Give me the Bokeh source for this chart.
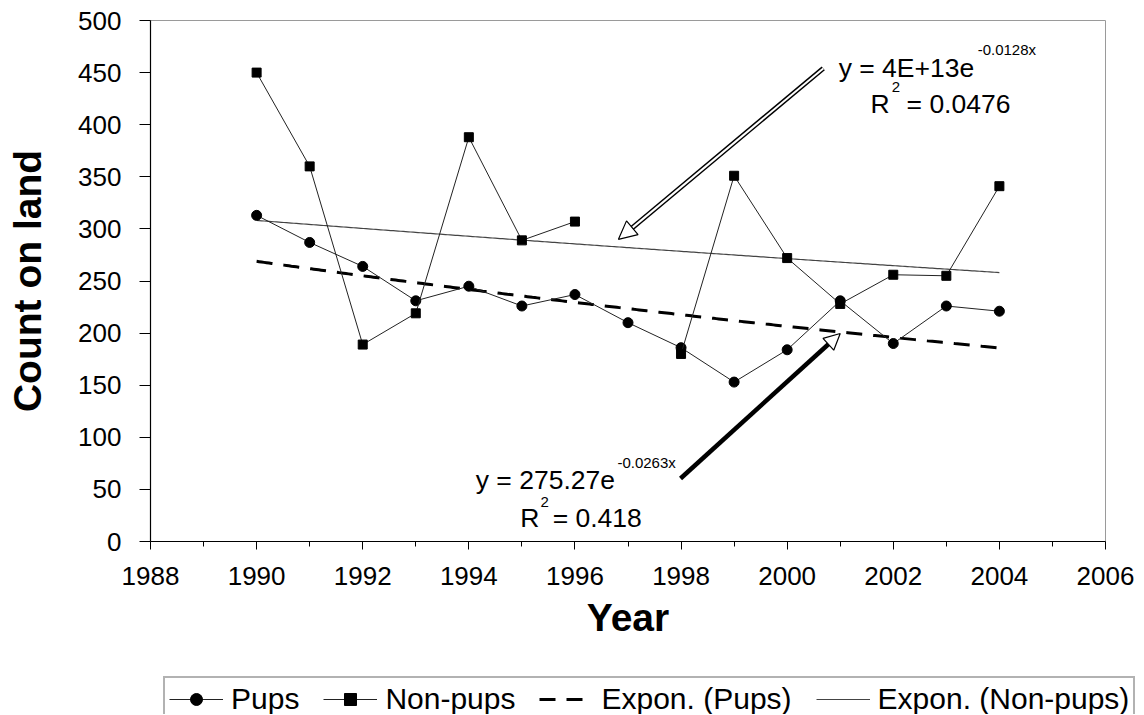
import numpy as np
from bokeh.plotting import figure
from bokeh.layouts import column
from bokeh.models import (Range1d, FixedTicker, Legend, LegendItem, Arrow, NormalHead, Label)
from bokeh.embed import file_html
from bokeh.resources import INLINE

# ---- data ----
years = [1990, 1991, 1992, 1993, 1994, 1995, 1996, 1997, 1998, 1999, 2000, 2001, 2002, 2003, 2004]
pups = [313, 287, 264, 231, 245, 226, 237, 210, 186, 153, 184, 231, 190, 226, 221]
non_pups = [450, 360, 189, 219, 388, 289, 307, np.nan, 180, 351, 272, 228, 256, 255, 341]
x_major_ticks = [1988, 1990, 1992, 1994, 1996, 1998, 2000, 2002, 2004, 2006]
x_minor_ticks = [1989, 1991, 1993, 1995, 1997, 1999, 2001, 2003, 2005]
y_ticks = [0, 50, 100, 150, 200, 250, 300, 350, 400, 450, 500]
eq_pups = ("y = 275.27e", "-0.0263x", "R", "2", "= 0.418")
eq_non = ("y = 4E+13e", "-0.0128x", "R", "2", "= 0.0476")
legend_labels = ["Pups", "Non-pups", "Expon. (Pups)", "Expon. (Non-pups)"]

FONT = "Liberation Sans"
W = 1142

def expfit(x, y):
    x = np.asarray(x, float)
    y = np.asarray(y, float)
    m = ~np.isnan(y)
    b, a = np.polyfit(x[m], np.log(y[m]), 1)
    xs = np.linspace(x[m].min(), x[m].max(), 300)
    return xs, np.exp(a + b * xs)

p = figure(width=W, height=674, x_range=Range1d(1988, 2006), y_range=Range1d(0, 500),
           output_backend="svg", toolbar_location=None,
           min_border_left=150, min_border_right=37, min_border_top=20, min_border_bottom=133)
p.frame_align = False
p.background_fill_color = "white"
p.border_fill_color = "white"
p.outline_line_color = "#9a9a9a"
p.outline_line_width = 1
p.xgrid.visible = False
p.ygrid.visible = False

# axes
p.xaxis.ticker = FixedTicker(ticks=x_major_ticks, minor_ticks=x_minor_ticks)
p.yaxis.ticker = FixedTicker(ticks=y_ticks, minor_ticks=[])
for ax in (p.xaxis, p.yaxis):
    ax.axis_line_color = "black"
    ax.axis_line_width = 1.2
    ax.major_tick_line_color = "black"
    ax.minor_tick_line_color = "black"
    ax.major_tick_in = 0
    ax.minor_tick_in = 0
    ax.major_label_text_font = FONT
    ax.major_label_text_font_size = "26px"
    ax.major_label_text_color = "black"
    ax.axis_label_text_font = FONT
    ax.axis_label_text_font_style = "bold"
    ax.axis_label_text_font_size = "39px"
    ax.axis_label_text_color = "black"
p.xaxis.major_tick_out = 8
p.xaxis.minor_tick_out = 5
p.yaxis.major_tick_out = 11
p.yaxis.minor_tick_out = 0
p.xaxis.major_label_standoff = 17
p.yaxis.major_label_standoff = 18
p.xaxis.axis_label = "Year"
p.yaxis.axis_label = "Count on land"
p.xaxis.axis_label_standoff = 8
p.yaxis.axis_label_standoff = 26

# trend lines (exponential fits of the data)
tx_n, ty_n = expfit(years, non_pups)
tx_p, ty_p = expfit(years, pups)
TN = dict(line_color="#444444", line_width=1.2)
TP = dict(line_color="black", line_width=3, line_dash="16 11")
DL = dict(line_color="#222222", line_width=1)
PM = dict(marker="circle", size=10, fill_color="black", line_color="black")
NM = dict(marker="square", size=9, fill_color="black", line_color="black")
p.line(tx_n, ty_n, **TN)
p.line(tx_p, ty_p, **TP)

# data series
p.line(years, pups, **DL)
p.scatter(years, pups, **PM)
p.line(years, non_pups, **DL)
p.scatter(years, non_pups, **NM)

# arrows
def add_outlined_arrow(x0, y0, x1, y1, head):
    p.add_layout(Arrow(x_start=x0, y_start=y0, x_end=x1, y_end=y1, line_width=5, line_color="black",
                       end=NormalHead(size=head, fill_color="white", line_color="black", line_width=1.2)))
    f = 0.93
    p.add_layout(Arrow(x_start=x0, y_start=y0, x_end=x0 + f * (x1 - x0), y_end=y0 + f * (y1 - y0),
                       line_width=2, line_color="white", end=None))

add_outlined_arrow(2000.68, 454, 1996.82, 290, 18)
p.add_layout(Arrow(x_start=1997.99, y_start=60.5, x_end=2001.0, y_end=199.6, line_width=4.5, line_color="black",
                   end=NormalHead(size=16, fill_color="white", line_color="black", line_width=1.2)))

# equation labels
def lab(x, y, t, size):
    p.add_layout(Label(x=x, y=y, text=t, text_font=FONT, text_font_size=size, text_color="black",
                       text_align="left", text_baseline="alphabetic"))

BIG, SUP = "26.5px", "15px"
lab(1994.13, 59.5, eq_pups[0], BIG)
lab(1996.80, 75.5, eq_pups[1], SUP)
lab(1994.97, 23, eq_pups[2], BIG)
lab(1995.35, 38, eq_pups[3], SUP)
lab(1995.58, 23, eq_pups[4], BIG)

lab(2000.97, 454, eq_non[0], BIG)
lab(2003.59, 472, eq_non[1], SUP)
lab(2001.57, 419.4, eq_non[2], BIG)
lab(2001.97, 436, eq_non[3], SUP)
lab(2002.25, 419.4, eq_non[4], BIG)

# legend strip (separate figure below the chart, same styles)
q = figure(width=W, height=40, x_range=Range1d(0, 1), y_range=Range1d(0, 1),
           output_backend="svg", toolbar_location=None, x_axis_type=None, y_axis_type=None,
           min_border_left=0, min_border_right=0, min_border_top=0, min_border_bottom=0)
q.frame_align = False
q.outline_line_color = None
q.xgrid.visible = False
q.ygrid.visible = False
q.background_fill_color = "white"
q.border_fill_color = "white"
nan = [np.nan]
g_pl = q.line(nan, nan, **DL)
g_ps = q.scatter(nan, nan, **PM)
g_nl = q.line(nan, nan, **DL)
g_ns = q.scatter(nan, nan, **NM)
g_tp = q.line(nan, nan, **TP)
g_tn = q.line(nan, nan, **TN)
legend = Legend(items=[
    LegendItem(label=legend_labels[0], renderers=[g_pl, g_ps]),
    LegendItem(label=legend_labels[1], renderers=[g_nl, g_ns]),
    LegendItem(label=legend_labels[2], renderers=[g_tp]),
    LegendItem(label=legend_labels[3], renderers=[g_tn]),
], orientation="horizontal", location=(163, -8))
legend.label_text_font = FONT
legend.label_text_font_size = "30px"
legend.label_text_color = "black"
legend.border_line_color = "#666666"
legend.border_line_width = 2
legend.background_fill_color = "white"
legend.background_fill_alpha = 1
legend.glyph_width = 54
legend.glyph_height = 30
legend.label_standoff = 8
legend.spacing = 24
legend.padding = 4
legend.margin = 0
q.add_layout(legend, "center")

layout = column(p, q, spacing=0)
open("out.html", "w").write(file_html(layout, INLINE))
